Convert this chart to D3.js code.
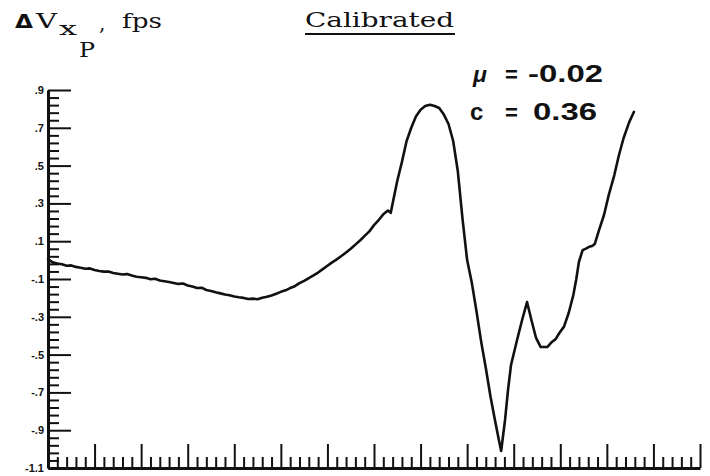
<!DOCTYPE html>
<html>
<head>
<meta charset="utf-8">
<script src="https://cdn.jsdelivr.net/npm/d3@7"></script>
<style>
  html, body { margin: 0; padding: 0; background: #fff; }
  svg { display: block; }
</style>
</head>
<body>
<svg id="chart" width="710" height="476"></svg>
<script>
// Time samples (one unit per minor x tick) and the velocity error trace, fps
const tUnits = [
  0, 0.5, 1, 1.5, 2, 2.5, 3, 3.5, 4, 4.5, 5, 5.5, 6, 6.5, 7, 7.5, 8, 8.5, 9, 9.5,
  10, 10.5, 11, 11.5, 12, 12.5, 13, 13.5, 14, 14.5, 15, 15.5, 16, 16.5, 17, 17.5,
  18, 18.5, 19, 19.5, 20, 20.5, 21, 21.5, 22, 22.5, 23, 23.5, 24, 24.5, 25, 25.5,
  26, 26.5, 27, 27.5, 28, 28.5, 29, 29.5, 30, 30.5, 31, 31.5, 32, 32.5, 33, 33.5,
  34, 34.5, 35, 35.5, 36, 36.5, 36.8, 37.0, 37.5, 38.0, 38.5, 39.0, 39.5, 40.0,
  40.5, 41.0, 41.5, 42.0, 42.5, 43.0, 43.5, 44.0, 44.5, 45.0, 45.5, 46.0, 46.5,
  47.0, 47.5, 48.0, 48.4, 48.65, 49.07, 49.39, 49.71, 50.36, 50.9, 51.43, 51.9,
  52.4, 52.9, 53.6, 54.1, 54.5, 54.9, 55.4, 55.9, 56.4, 56.7, 57.0, 57.4, 57.8,
  58.1, 58.4, 58.7, 59.1, 59.7, 60.2, 60.8, 61.3, 61.8, 62.4, 62.9
];
const dV = [
  0.005, -0.012, -0.018, -0.022, -0.030, -0.028, -0.036, -0.040, -0.046, -0.044,
  -0.052, -0.058, -0.061, -0.060, -0.068, -0.072, -0.076, -0.074, -0.082, -0.088,
  -0.091, -0.094, -0.101, -0.099, -0.108, -0.112, -0.116, -0.121, -0.126, -0.124,
  -0.134, -0.140, -0.148, -0.146, -0.158, -0.163, -0.170, -0.176, -0.182, -0.186,
  -0.193, -0.197, -0.200, -0.206, -0.204, -0.207, -0.199, -0.194, -0.187, -0.178,
  -0.168, -0.160, -0.148, -0.138, -0.122, -0.110, -0.095, -0.081, -0.066, -0.048,
  -0.030, -0.012, 0.004, 0.022, 0.040, 0.060, 0.082, 0.104, 0.128, 0.152,
  0.185, 0.212, 0.242, 0.262, 0.250, 0.300, 0.420, 0.520, 0.630, 0.700,
  0.760, 0.795, 0.815, 0.822, 0.815, 0.805, 0.770, 0.720, 0.630, 0.470,
  0.220, 0.000, -0.120, -0.270, -0.430, -0.570, -0.720, -0.850, -0.950, -1.010,
  -0.846, -0.687, -0.555, -0.423, -0.317, -0.222, -0.317, -0.412, -0.460, -0.460,
  -0.433, -0.418, -0.386, -0.352, -0.280, -0.185, -0.105, -0.010, 0.053, 0.062,
  0.070, 0.074, 0.085, 0.149, 0.240, 0.344, 0.450, 0.556, 0.646, 0.730, 0.784
];

// Labelled y ticks and their printed labels
const yMajorTicks = [0.9, 0.7, 0.5, 0.3, 0.1, -0.1, -0.3, -0.5, -0.7, -0.9, -1.1];
const yTickLabels = [".9", ".7", ".5", ".3", ".1", "-.1", "-.3", "-.5", "-.7", "-.9", "-1.1"];
const yMinorTicks = d3.range(0, 51).filter(i => i % 5 !== 0).map(i => -1.1 + i * 0.04);
const xMajorTicks = d3.range(0, 71, 5);
const xMinorTicks = d3.range(0, 71).filter(i => i % 5 !== 0);

const svg = d3.select("#chart");

const x = d3.scaleLinear().domain([0, 70]).range([48, 700]);
const y = d3.scaleLinear().domain([-1.1, 0.9]).range([468, 90]);

const ink = "#111";

// Y axis: long ticks at the labelled values, short ticks between
const yMinorAxis = d3.axisLeft(y).tickValues(yMinorTicks).tickSizeInner(-11).tickSizeOuter(0).tickFormat("");
svg.append("g").attr("transform", "translate(48,0)").call(yMinorAxis)
  .call(g => g.select(".domain").remove())
  .call(g => g.selectAll("line").attr("stroke", ink).attr("stroke-width", 2));

const yAxis = d3.axisLeft(y).tickValues(yMajorTicks).tickSizeInner(-23).tickSizeOuter(0)
  .tickPadding(4).tickFormat((d, i) => yTickLabels[i]);
svg.append("g").attr("transform", "translate(48,0)").call(yAxis)
  .call(g => g.select(".domain").attr("stroke", ink).attr("stroke-width", 3))
  .call(g => g.selectAll("line").attr("stroke", ink).attr("stroke-width", 2))
  .call(g => g.selectAll("text")
    .attr("fill", ink)
    .attr("font-family", "'Liberation Sans', Arial, sans-serif")
    .attr("font-weight", "bold")
    .attr("font-size", 11));

// X axis: unlabelled, major ticks every five minor ticks
const xMinorAxis = d3.axisBottom(x).tickValues(xMinorTicks).tickSizeInner(-11).tickSizeOuter(0).tickFormat("");
svg.append("g").attr("transform", "translate(0,468)").call(xMinorAxis)
  .call(g => g.select(".domain").remove())
  .call(g => g.selectAll("line").attr("stroke", ink).attr("stroke-width", 2));

const xAxis = d3.axisBottom(x).tickValues(xMajorTicks).tickSizeInner(-24).tickSizeOuter(0).tickFormat("");
svg.append("g").attr("transform", "translate(0,468)").call(xAxis)
  .call(g => g.select(".domain").attr("stroke", ink).attr("stroke-width", 3))
  .call(g => g.selectAll("line").attr("stroke", ink).attr("stroke-width", 2));

// The trace
const line = d3.line()
  .x((d, i) => x(tUnits[i]))
  .y(d => y(d))
  .curve(d3.curveLinear);
svg.append("path")
  .datum(dV)
  .attr("d", line)
  .attr("fill", "none")
  .attr("stroke", ink)
  .attr("stroke-width", 2.6)
  .attr("stroke-linejoin", "round")
  .attr("stroke-linecap", "round");

// Axis title: ΔV with subscript x_P, in fps
const serif = "'DejaVu Serif', 'Liberation Serif', serif";
function label(txt, px, py, size, opts = {}) {
  const t = svg.append("text")
    .attr("x", px).attr("y", py)
    .attr("font-family", opts.family || serif)
    .attr("font-size", size)
    .attr("font-weight", opts.weight || "normal")
    .attr("fill", ink)
    .text(txt);
  if (opts.len) t.attr("textLength", opts.len).attr("lengthAdjust", "spacingAndGlyphs");
  if (opts.style) t.attr("font-style", opts.style);
  return t;
}
label("\u0394", 15, 28, 20, { weight: "bold", family: "'DejaVu Sans', sans-serif", len: 18 });
label("V", 36, 28, 20, { len: 21 });
label("x", 59, 35, 19, { len: 18 });
label("P", 79, 57, 20, { len: 16 });
label(",", 99, 30, 20);
label("fps", 122, 28, 20, { len: 40 });

// Heading
label("Calibrated", 305, 27, 20, { len: 149 });
svg.append("line").attr("x1", 305).attr("x2", 455).attr("y1", 34).attr("y2", 34)
  .attr("stroke", ink).attr("stroke-width", 2);

// Statistics annotation
const sans = "'Liberation Sans', Arial, sans-serif";
label("\u03bc", 473, 82, 23, { family: sans, weight: "bold", style: "italic" });
label("=", 505, 82, 22, { family: sans, weight: "bold" });
label("-0.02", 528, 82, 23, { family: sans, weight: "bold", len: 75 });
label("c", 470, 120, 24, { family: sans, weight: "bold" });
label("=", 505, 120, 22, { family: sans, weight: "bold" });
label("0.36", 533, 120, 23, { family: sans, weight: "bold", len: 64 });
</script>
</body>
</html>
